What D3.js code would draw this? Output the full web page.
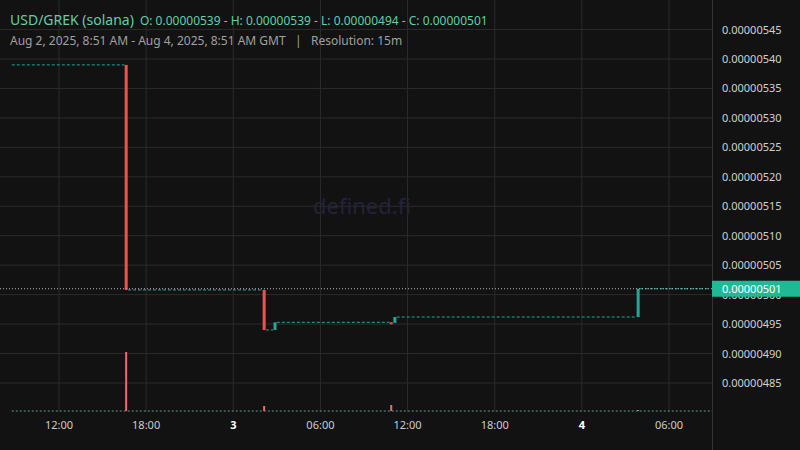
<!DOCTYPE html><html><head><meta charset="utf-8"><script src="https://cdn.jsdelivr.net/npm/d3@7"></script>
<style>body{margin:0;background:#121212}svg{display:block}text{font-family:"Noto Sans",sans-serif}</style></head><body><svg id="c" width="800" height="450"></svg>
<script>
const candleTimes=["2025-08-02T16:30","2025-08-03T02:00","2025-08-03T02:45","2025-08-03T10:45","2025-08-03T11:00","2025-08-04T03:45"];
const opens=[5.39e-6,5.008e-6,4.94e-6,4.953e-6,4.952e-6,4.962e-6];
const closes=[5.008e-6,4.94e-6,4.953e-6,4.952e-6,4.962e-6,5.01e-6];
const volumes=[59,5,0,6,0,1];
const yTicks=[4.85e-6,4.90e-6,4.95e-6,5.00e-6,5.05e-6,5.10e-6,5.15e-6,5.20e-6,5.25e-6,5.30e-6,5.35e-6,5.40e-6,5.45e-6];
const xTickTimes=["2025-08-02T12:00","2025-08-02T18:00","2025-08-03T00:00","2025-08-03T06:00","2025-08-03T12:00","2025-08-03T18:00","2025-08-04T00:00","2025-08-04T06:00"];
const xTickLabels=["12:00","18:00","3","06:00","12:00","18:00","4","06:00"];
const startT="2025-08-02T08:45",endT="2025-08-04T08:45",lastClose=5.01e-6;

const P=d3.timeParse("%Y-%m-%dT%H:%M");
const svg=d3.select("#c");
const W=712,bot=412;
const x=d3.scaleTime().domain([P("2025-08-02T12:00"),P("2025-08-04T06:00")]).range([59,669]);
const y=d3.scaleLinear().domain([4.85e-6,5.40e-6]).range([383,59]);
const vy=d3.scaleLinear().domain([0,100]).range([0,100]);
const cw=x(P("2025-08-02T12:15"))-x(P("2025-08-02T12:00"));
const g=svg.append("g");
g.selectAll(".gy").data(yTicks).join("line").attr("x1",0).attr("x2",W).attr("y1",d=>y(d)).attr("y2",d=>y(d)).attr("stroke","#2b2b2b");
g.selectAll(".gx").data(xTickTimes).join("line").attr("x1",d=>x(P(d))).attr("x2",d=>x(P(d))).attr("y1",0).attr("y2",bot).attr("stroke","#2b2b2b");
svg.append("line").attr("x1",W+0.5).attr("x2",W+0.5).attr("y1",0).attr("y2",450).attr("stroke","#333");
svg.append("text").attr("x",362).attr("y",214).attr("text-anchor","middle").attr("font-size",22).attr("fill","#23233a").text("defined.fi");
const times=candleTimes.map(P);
const segs=[];
let prevT=P(startT),prevV=opens[0];
times.forEach((t,i)=>{segs.push([prevT,t,prevV]);prevT=d3.timeMinute.offset(t,15);prevV=closes[i];});
segs.push([prevT,P(endT),prevV]);
g.selectAll(".seg").data(segs).join("line").attr("x1",d=>x(d[0])).attr("x2",d=>x(d[1])).attr("y1",d=>y(d[2])).attr("y2",d=>y(d[2])).attr("stroke","#26a69a").attr("stroke-width",1).attr("stroke-dasharray","3,2");
g.append("line").attr("x1",x(P(startT))).attr("x2",W).attr("y1",bot-1).attr("y2",bot-1).attr("stroke","#5a9a8a").attr("stroke-dasharray","2,2");
g.selectAll(".cd").data(times).join("rect").attr("x",d=>x(d)+cw/2-1.5).attr("width",3)
 .attr("y",(d,i)=>Math.min(y(opens[i]),y(closes[i]))).attr("height",(d,i)=>Math.max(2,Math.abs(y(opens[i])-y(closes[i]))))
 .attr("fill",(d,i)=>closes[i]<opens[i]?"#ef5350":"#26a69a");
g.selectAll(".vol").data(times).join("rect").attr("x",d=>x(d)+cw/2-1).attr("width",2)
 .attr("y",(d,i)=>bot-1-vy(volumes[i])).attr("height",(d,i)=>vy(volumes[i]))
 .attr("fill",(d,i)=>closes[i]<opens[i]?"#f26872":"#4fb8a5");
g.append("line").attr("x1",0).attr("x2",W).attr("y1",y(lastClose)).attr("y2",y(lastClose)).attr("stroke","#bbb").attr("stroke-dasharray","1,2");
svg.selectAll(".yl").data(yTicks).join("text").attr("x",722).attr("y",d=>y(d)+4).attr("font-size",11).attr("fill","#d0d0d0").text(d=>d.toFixed(8));
svg.append("rect").attr("x",W).attr("y",y(lastClose)-8).attr("width",88).attr("height",16).attr("fill","#1fba95");
svg.append("text").attr("x",722).attr("y",y(lastClose)+4).attr("font-size",11).attr("fill","#fff").text(lastClose.toFixed(8));
svg.selectAll(".xl").data(xTickTimes).join("text").attr("x",d=>x(P(d))).attr("y",429).attr("text-anchor","middle").attr("font-size",11)
 .attr("fill",(d,i)=>/^\d$/.test(xTickLabels[i])?"#fff":"#ccc").attr("font-weight",(d,i)=>/^\d$/.test(xTickLabels[i])?"bold":"normal").text((d,i)=>xTickLabels[i]);
const h=svg.append("text").attr("x",10).attr("y",25).attr("fill","#5fcfa8");
h.append("tspan").attr("font-size",14).text("USD/GREK (solana)");
h.append("tspan").attr("font-size",12).attr("dx",6).text("O: 0.00000539 - H: 0.00000539 - L: 0.00000494 - C: 0.00000501");
svg.append("text").attr("x",10).attr("y",45).attr("font-size",12).attr("fill","#a0a0a0").attr("xml:space","preserve").text("Aug 2, 2025, 8:51 AM - Aug 4, 2025, 8:51 AM GMT   |   Resolution: 15m");
</script></body></html>
